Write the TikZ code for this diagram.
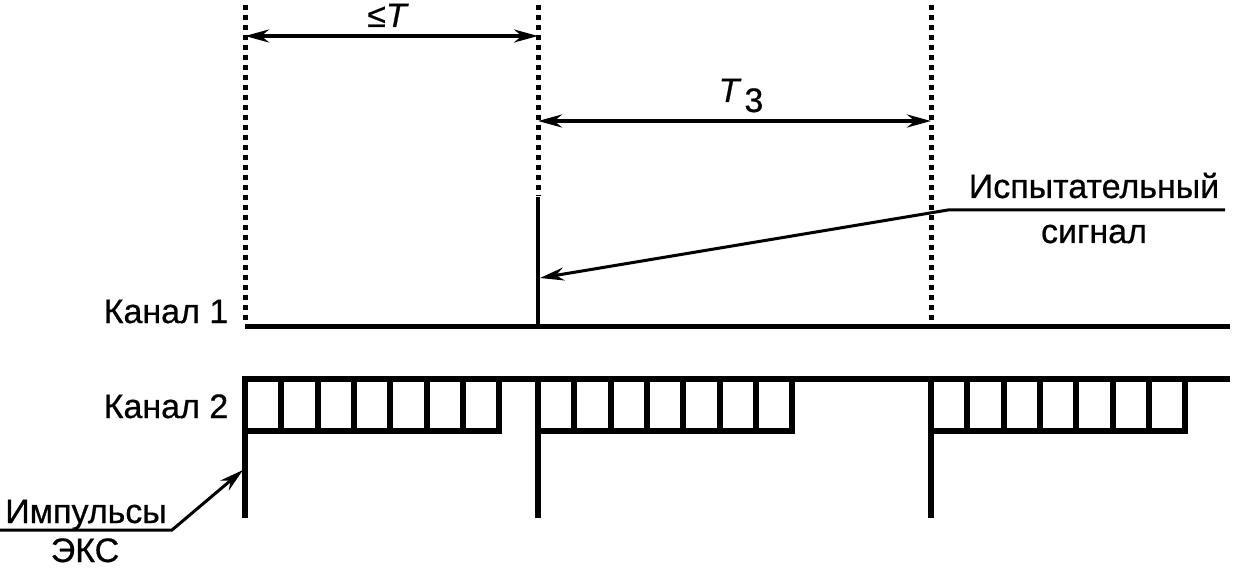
\documentclass[tikz,border=0pt]{standalone}
\usepackage{fontspec}
\setmainfont{Liberation Sans}[FakeBold=0.6]
\usetikzlibrary{arrows.meta}
\begin{document}
\begin{tikzpicture}[x=1pt,y=-1pt,
  lbl/.style={anchor=base,inner sep=0pt,font=\fontsize{34}{40}\selectfont},
  dots/.style={line width=5pt,dash pattern=on 5pt off 5pt},
  sig/.style={line width=5pt},
  pulse/.style={line width=6pt},
  dim/.style={line width=3.5pt,{Stealth[length=24pt,width=13pt]}-{Stealth[length=24pt,width=13pt]}},
  lead/.style={line width=3pt,-{Stealth[length=24pt,width=13pt]}}]
\useasboundingbox (0,0) rectangle (1233,577);
% time marks
\coordinate (a0) at (245,5);  \coordinate (a1) at (245,324);
\coordinate (b0) at (538,5);  \coordinate (b1) at (538,196);
\coordinate (c0) at (931,5);  \coordinate (c1) at (931,324);
\draw[dots] (a0) -- (a1);
\draw[dots] (b0) -- (b1);
\draw[dots] (c0) -- (c1);
% channel 1
\coordinate (k1s) at (245,326); \coordinate (k1e) at (1230,326);
\draw[sig] (k1s) -- (k1e);
\coordinate (ts) at (538,197); \coordinate (tb) at (538,326);
\draw[line width=3.5pt] (ts) -- (tb);
% dimensions
\coordinate (d1a) at (245,36); \coordinate (d1b) at (538,36);
\draw[dim] (d1a) -- (d1b);
\node[lbl] (leT) at (388,27) {≤\textit{T}};
\coordinate (d2a) at (538,121); \coordinate (d2b) at (931,121);
\draw[dim] (d2a) -- (d2b);
\node[lbl] (T3) at (741,102) {\textit{T}\kern3pt\raisebox{-10pt}{3}};
% channel 2
\coordinate (k2s) at (242,379); \coordinate (k2e) at (1230,379);
\draw[pulse] (k2s) -- (k2e);
\foreach \s in {245,538,931}{
  \draw[pulse] (\s,376) -- (\s,518);
  \draw[pulse] (\s,431) -- (\s+257,431);
  \foreach \k in {1,...,7}{
    \draw[pulse] (\s+36.3*\k,379) -- (\s+36.3*\k,431);
  }
}
% labels
\node[lbl] (kan1) at (166,323) {Канал 1};
\node[lbl] (kan2) at (166,418) {Канал 2};
\node[lbl] (isp) at (1094,198) {Испытательный};
\node[lbl] (sg) at (1094,243) {сигнал};
\coordinate (u1) at (1225,210); \coordinate (u2) at (948,210); \coordinate (tip1) at (540,278);
\draw[lead] (u1) -- (u2) -- (tip1);
\node[lbl] (imp) at (86,523) {Импульсы};
\node[lbl] (eks) at (85,562) {ЭКС};
\coordinate (v1) at (0,530); \coordinate (v2) at (172,530); \coordinate (tip2) at (243,470);
\draw[lead] (v1) -- (v2) -- (tip2);
\end{tikzpicture}
\end{document}
